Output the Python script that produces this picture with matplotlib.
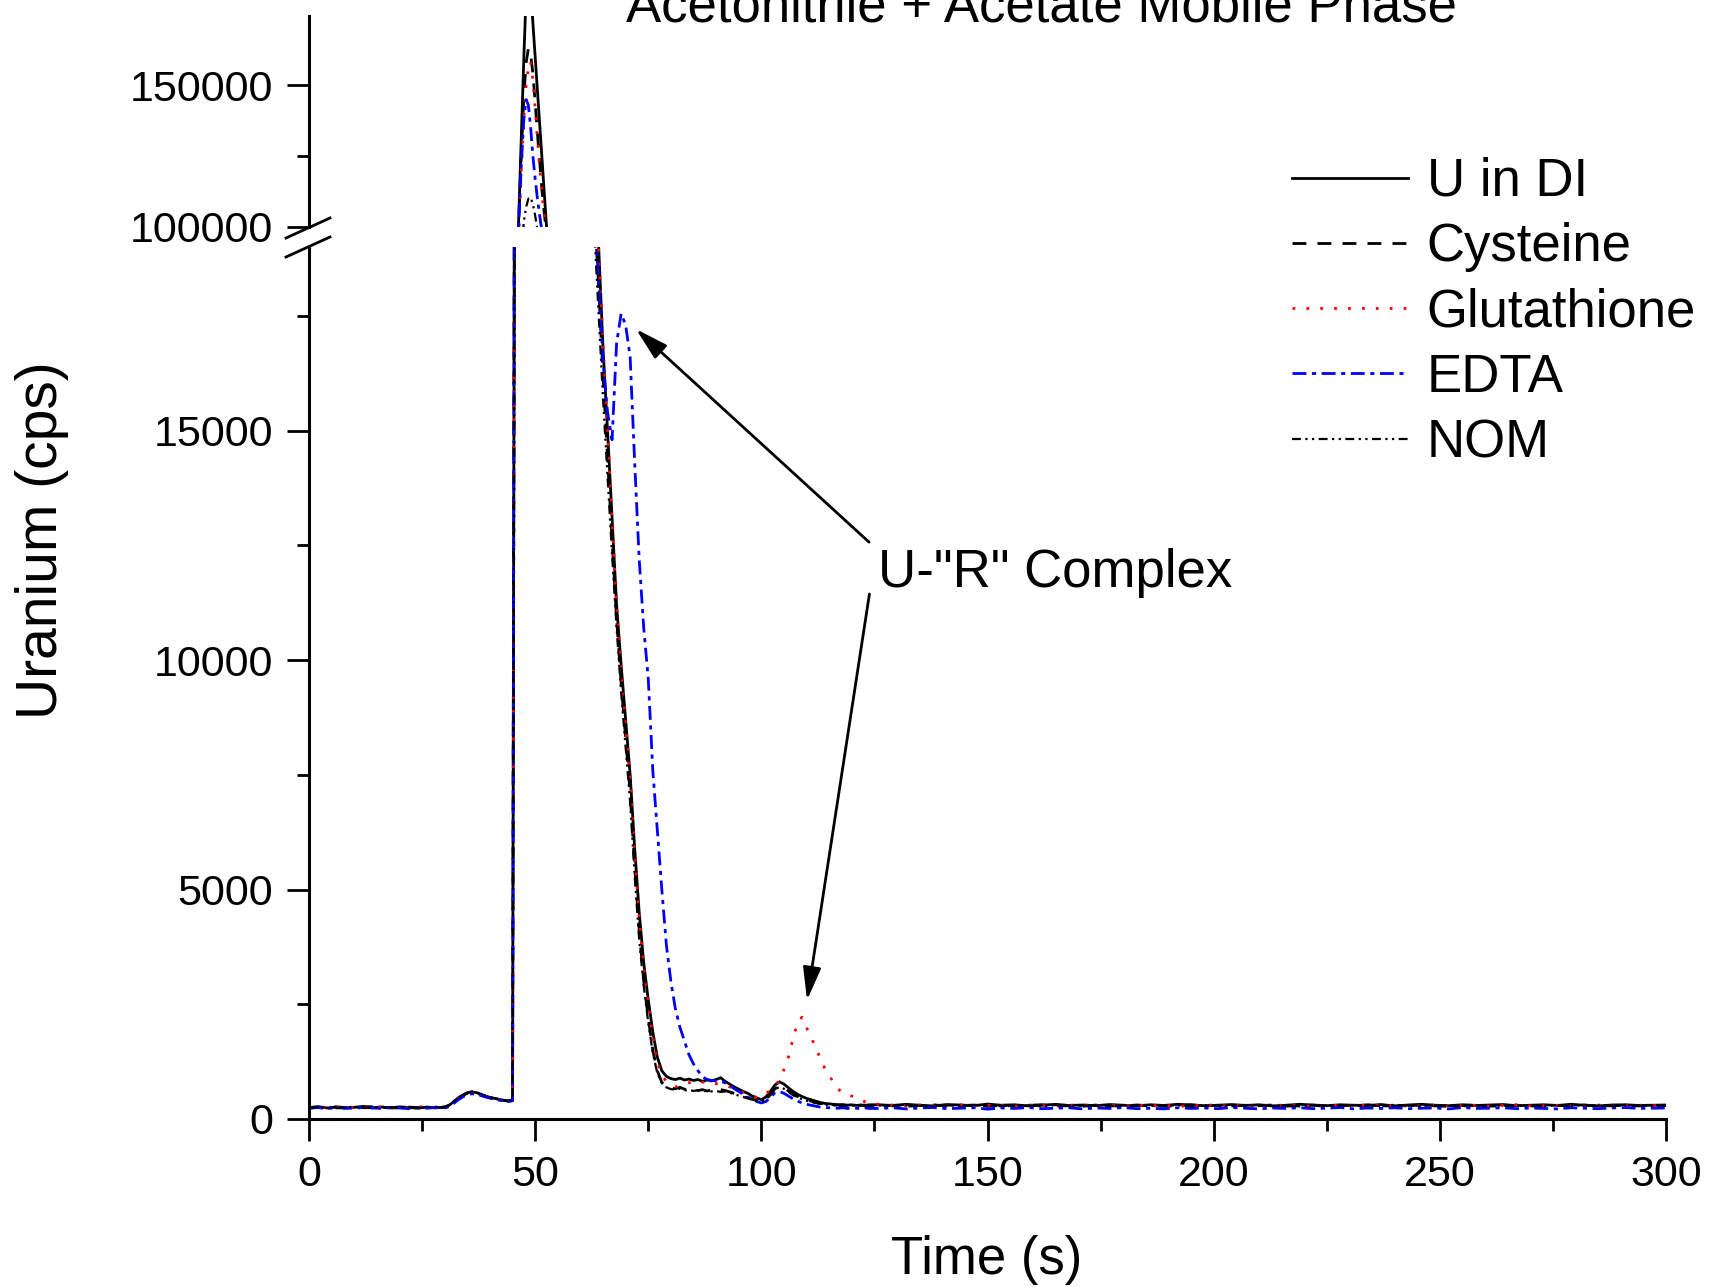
import numpy as np
import matplotlib
matplotlib.use("Agg")
import matplotlib.pyplot as plt
from matplotlib.lines import Line2D
from matplotlib.ticker import MultipleLocator, FixedLocator

plt.rcParams['font.family'] = ['Liberation Sans', 'DejaVu Sans']

# ---------------- data ----------------
time_s = np.concatenate([
    np.arange(0, 30, 2),        # 15 pts
    np.arange(30, 45, 1),       # 15 pts
    np.arange(45, 53, 0.5),     # 16 pts
    np.array([54, 56, 58, 60, 62]),
    np.arange(63, 125, 1),      # 62 pts
    np.arange(126, 301, 3),     # 59 pts
])

u_di = [
    250, 270, 240, 260, 235, 255, 275, 245, 260, 240, 265, 250, 235, 260, 245,
    260, 300, 380, 460, 520, 570, 590, 575, 540, 500, 470, 450, 430, 410, 395,
    420, 25000, 85000, 110000, 135000, 160000, 182000, 190000, 185000, 172000,
    160000, 148000, 136000, 124000, 112000, 100500,
    82000, 62000, 46000, 34000, 25500,
    21000, 19100, 16800, 15000, 13100, 11200, 9900, 8700, 7500, 5900,
    4500, 3400, 2600, 1900, 1350, 1050, 930, 880, 860, 890,
    850, 870, 840, 860, 820, 850, 830, 860, 900, 820,
    760, 700, 650, 600, 560, 500, 460, 420, 480, 600,
    740, 810, 760, 680, 600, 540, 490, 450, 420, 390,
    360, 340, 330, 320, 310, 315, 300, 310, 295, 305,
    300, 310,
    310, 295, 320, 300, 285, 315, 305, 290, 325, 300,
    310, 285, 300, 320, 295, 305, 290, 315, 300, 285,
    310, 295, 320, 305, 290, 300, 315, 295, 310, 285,
    300, 320, 305, 290, 310, 300, 295, 315, 285, 305,
    320, 300, 290, 310, 295, 305, 315, 290, 300, 310,
    295, 320, 300, 285, 305, 310, 295, 300, 305,
]

cysteine = [
    240, 255, 230, 265, 250, 240, 260, 270, 245, 255, 235, 260, 250, 240, 255,
    250, 290, 370, 450, 510, 560, 580, 565, 530, 495, 465, 440, 420, 405, 390,
    400, 26000, 84000, 108000, 128000, 146000, 158000, 163000, 161000, 154000,
    144000, 133000, 123000, 113000, 105000, 98000,
    80000, 60000, 44000, 32000, 24000,
    20000, 18200, 16200, 14400, 12600, 10900, 9500, 8300, 7100, 5500,
    4100, 3000, 2200, 1500, 1050, 800, 700, 680, 660, 690,
    650, 640, 660, 620, 640, 610, 630, 600, 640, 620,
    590, 560, 520, 490, 460, 430, 400, 380, 430, 540,
    660, 720, 680, 610, 540, 490, 450, 420, 390, 360,
    340, 320, 310, 300, 305, 290, 300, 285, 295, 300,
    285, 295,
    285, 300, 275, 295, 310, 280, 290, 305, 275, 295,
    285, 300, 310, 280, 290, 275, 305, 290, 280, 300,
    295, 275, 290, 310, 285, 295, 280, 300, 290, 305,
    280, 290, 300, 275, 295, 285, 310, 290, 280, 295,
    300, 285, 275, 295, 305, 280, 290, 300, 285, 275,
    295, 290, 305, 280, 290, 300, 285, 295, 290,
]

glutathione = [
    255, 235, 260, 245, 270, 250, 240, 255, 265, 235, 250, 245, 260, 270, 240,
    255, 295, 375, 455, 515, 565, 585, 570, 535, 500, 470, 445, 425, 410, 395,
    410, 22000, 80000, 104000, 122000, 138000, 150000, 156000, 158500, 152000,
    142000, 131000, 121000, 112000, 104000, 97000,
    79000, 59000, 44000, 32500, 24500,
    21000, 19000, 16900, 15000, 13000, 11200, 9800, 8600, 7400, 5800,
    4400, 3300, 2500, 1800, 1250, 950, 820, 760, 700, 730,
    760, 790, 810, 830, 800, 820, 790, 770, 760, 740,
    700, 660, 620, 580, 540, 500, 470, 480, 560, 620,
    720, 850, 1080, 1350, 1750, 2100, 2220, 1990, 1780, 1560,
    1330, 1110, 950, 790, 650, 570, 520, 500, 470, 420,
    370, 340,
    320, 300, 290, 305, 280, 295, 310, 285, 300, 290,
    275, 305, 295, 285, 300, 310, 280, 295, 290, 305,
    285, 300, 275, 290, 310, 295, 285, 300, 280, 295,
    305, 290, 280, 300, 295, 285, 310, 290, 300, 280,
    295, 305, 285, 290, 300, 280, 295, 310, 285, 290,
    300, 285, 295, 305, 280, 290, 300, 295, 285,
]

edta = [
    235, 250, 225, 245, 240, 230, 255, 240, 230, 250, 240, 225, 245, 235, 250,
    240, 270, 340, 420, 480, 530, 550, 540, 510, 480, 455, 430, 410, 395, 380,
    400, 24000, 82000, 106000, 124000, 138000, 145000, 143000, 135000, 125000,
    117000, 110000, 104000, 98500, 93000, 88000,
    72000, 55000, 41000, 30000, 23000,
    20000, 18300, 16500, 15400, 14800, 16900, 17550, 17300, 16600, 14300,
    12200, 10700, 9600, 7600, 6300, 5000, 3800, 3000, 2400, 2000,
    1700, 1400, 1200, 1050, 920, 860, 840, 830, 820, 790,
    730, 660, 600, 540, 480, 430, 380, 350, 380, 470,
    570, 600, 560, 500, 440, 390, 350, 320, 300, 280,
    260, 250, 245, 240, 235, 245, 230, 240, 235, 225,
    240, 230,
    230, 245, 220, 240, 250, 225, 235, 245, 215, 240,
    230, 250, 225, 235, 245, 220, 240, 230, 250, 225,
    235, 220, 245, 230, 240, 225, 250, 235, 220, 240,
    230, 245, 225, 235, 250, 220, 240, 230, 245, 225,
    235, 240, 220, 250, 230, 235, 245, 225, 240, 230,
    220, 245, 235, 225, 240, 250, 230, 235, 240,
]

nom = [
    245, 260, 250, 235, 255, 265, 240, 250, 270, 245, 255, 260, 240, 250, 265,
    265, 305, 385, 465, 525, 575, 600, 580, 545, 505, 475, 450, 430, 410, 390,
    410, 20000, 60000, 80000, 93000, 102000, 107000, 110000, 110500, 108000,
    104000, 99000, 93000, 87000, 81000, 76000,
    62000, 48000, 37000, 28000, 22000,
    19500, 17600, 15700, 14000, 12300, 10700, 9300, 8100, 6900, 5300,
    3900, 2900, 2100, 1450, 1000, 780, 690, 650, 640, 660,
    620, 640, 610, 630, 600, 620, 600, 610, 590, 600,
    570, 540, 510, 480, 450, 420, 390, 370, 420, 520,
    640, 700, 660, 590, 520, 470, 430, 400, 370, 350,
    330, 315, 300, 305, 290, 300, 295, 285, 300, 290,
    295, 285,
    295, 280, 305, 290, 275, 300, 285, 310, 290, 280,
    300, 295, 275, 305, 285, 290, 300, 280, 295, 310,
    285, 290, 300, 275, 295, 305, 280, 290, 300, 285,
    295, 275, 305, 290, 285, 300, 295, 280, 310, 290,
    285, 300, 295, 275, 290, 305, 285, 295, 280, 300,
    290, 285, 300, 295, 280, 305, 290, 285, 295,
]

series_labels = ["U in DI", "Cysteine", "Glutathione", "EDTA", "NOM"]
x_ticks = [0, 50, 100, 150, 200, 250, 300]
y_ticks_low = [0, 5000, 10000, 15000]
y_ticks_high = [100000, 150000]

# ---------------- figure ----------------
W, H = 1710, 1287
fig = plt.figure(figsize=(W / 100, H / 100), dpi=100)

def fx(px):
    return px / W

def fy(py):
    return 1 - py / H

left, right = 309, 1666
ax_top = fig.add_axes([fx(left), fy(227), fx(right - left), (227 - 16) / H])
ax_bot = fig.add_axes([fx(left), fy(1119), fx(right - left), (1119 - 247) / H])

styles = [
    dict(color="black", linestyle="-", lw=2.0),
    dict(color="black", linestyle=(0, (5, 4)), lw=2.0),
    dict(color="#ff0000", linestyle=(0, (1, 4)), lw=2.0),
    dict(color="#0000ff", linestyle=(0, (5, 2, 1.5, 2)), lw=2.0),
    dict(color="black", linestyle=(0, (4, 2, 1, 2, 1, 2)), lw=1.6),
]
all_series = [u_di, cysteine, glutathione, edta, nom]

handles = []
for ys, st, lab in zip(all_series, styles, series_labels):
    ax_top.plot(time_s, ys, **st)
    h, = ax_bot.plot(time_s, ys, label=lab, **st)
    handles.append(h)

FS_TICK = 31
for ax in (ax_top, ax_bot):
    ax.set_xlim(0, 300)
    ax.spines['top'].set_visible(False)
    ax.spines['right'].set_visible(False)
    ax.spines['left'].set_linewidth(2.2)
    ax.spines['bottom'].set_linewidth(2.2)
    ax.tick_params(which='major', direction='out', length=16, width=2.0,
                   labelsize=FS_TICK, pad=10)
    ax.tick_params(which='minor', direction='out', length=8.5, width=2.0)

ax_top.set_ylim(100000, 174500)
ax_top.spines['bottom'].set_visible(False)
ax_top.set_xticks([])
ax_top.tick_params(axis='x', which='both', bottom=False, labelbottom=False)
ax_top.yaxis.set_major_locator(FixedLocator(y_ticks_high))
ax_top.yaxis.set_minor_locator(FixedLocator([125000]))
ax_top.set_yticklabels([str(v) for v in y_ticks_high])

ax_bot.set_ylim(0, 19000)
ax_bot.yaxis.set_major_locator(FixedLocator(y_ticks_low))
ax_bot.yaxis.set_minor_locator(MultipleLocator(2500))
ax_bot.set_yticklabels([str(v) for v in y_ticks_low])
ax_bot.xaxis.set_major_locator(FixedLocator(x_ticks))
ax_bot.xaxis.set_minor_locator(MultipleLocator(25))
ax_bot.set_xticklabels([str(v) for v in x_ticks])

# axis break marks
for (x0, y0, x1, y1) in [(286, 238, 330, 218), (286, 257, 330, 237)]:
    fig.add_artist(Line2D([fx(x0), fx(x1)], [fy(y0), fy(y1)], color='black', lw=2.0))

# texts
FS_BIG = 38
fig.text(fx(1041), fy(22), "Acetonitrile + Acetate Mobile Phase",
         ha='center', va='baseline', fontsize=FS_BIG)
fig.text(fx(987), fy(1260), "Time (s)", ha='center', va='center', fontsize=FS_BIG)
fig.text(fx(42), fy(540), "Uranium (cps)", ha='center', va='center',
         rotation=90, fontsize=41)

fig.legend(handles, series_labels, loc='upper left',
           bbox_to_anchor=(fx(1292), fy(157)), frameon=False, fontsize=FS_BIG,
           handlelength=2.2, handletextpad=0.35, labelspacing=0.29,
           borderpad=0, borderaxespad=0)

# annotation
arrow_kw = dict(arrowstyle='-|>,head_length=2.0,head_width=0.55', color='black',
                lw=2.0, shrinkA=0, shrinkB=0, mutation_scale=10)
ax_bot.annotate('', xy=(72.3, 17210), xytext=(123.8, 12570), arrowprops=arrow_kw,
                annotation_clip=False)
ax_bot.annotate('', xy=(110.1, 2590), xytext=(123.9, 11440), arrowprops=arrow_kw,
                annotation_clip=False)
ax_bot.text(125.8, 11900, 'U-"R" Complex', fontsize=FS_BIG, va='center', ha='left')

fig.savefig("out.png", dpi=100)
